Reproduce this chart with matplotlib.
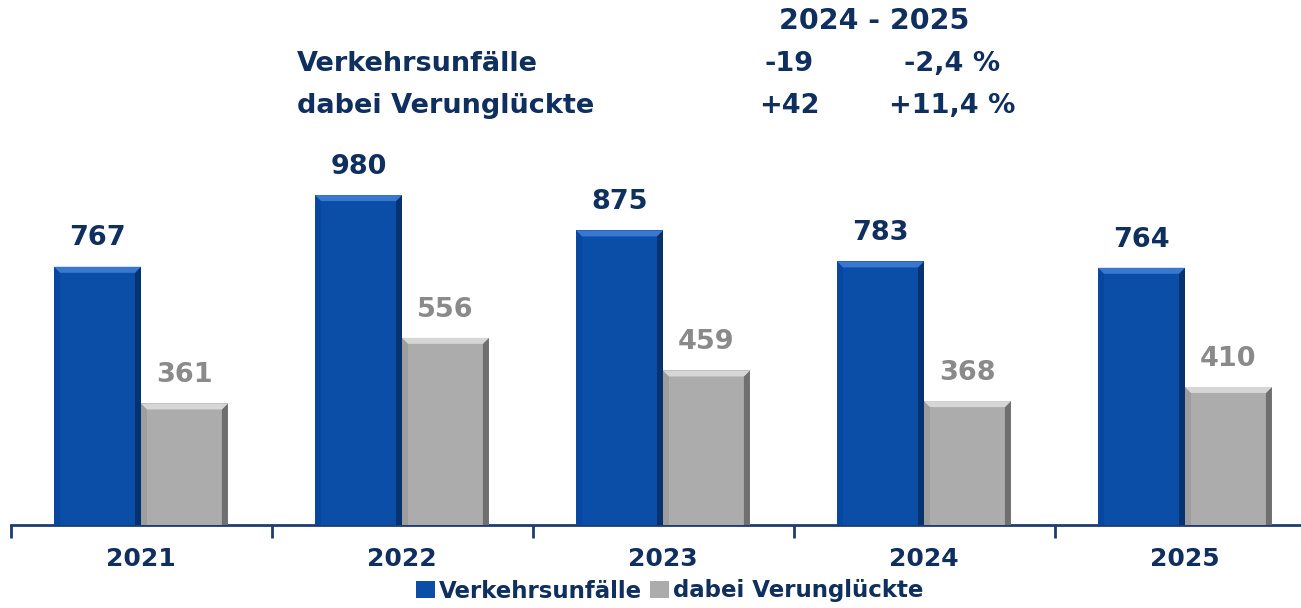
"""Verkehrsunfälle / dabei Verunglückte 2021-2025, beveled column chart."""
import matplotlib

matplotlib.use("Agg")
import numpy as np  # noqa: E402
from matplotlib import patches  # noqa: E402
from matplotlib import pyplot as plt  # noqa: E402

W, H = 1301, 608

# ---- data -----------------------------------------------------------------
years = ["2021", "2022", "2023", "2024", "2025"]
unfaelle = [767, 980, 875, 783, 764]
verunglueckte = [361, 556, 459, 368, 410]

series_names = ["Verkehrsunfälle", "dabei Verunglückte"]
change_title = "2024 - 2025"
change_abs = ["-19", "+42"]
change_pct = ["-2,4 %", "+11,4 %"]

# ---- palette --------------------------------------------------------------
NAVY = "#0f2f5f"
BLUE, BLUE_HI, BLUE_LO = "#0a4ea8", "#3a78d0", "#06336f"
GRAY, GRAY_HI, GRAY_LO = "#acacac", "#d6d6d6", "#6f6f6f"
GRAY_TXT = "#8a8a8a"
FONT = "DejaVu Sans"


def px2data(ax):
    """data units per pixel in x and y."""
    bb = ax.get_window_extent()
    x0, x1 = ax.get_xlim()
    y0, y1 = ax.get_ylim()
    return (x1 - x0) / bb.width, (y1 - y0) / bb.height


def bevel(ax, bar, hi, lo, side, t=6):
    """Add a bevelled frame (light top/left, dark right) over one bar."""
    sx, sy = px2data(ax)
    dx, dy = t * sx, t * sy
    x, y = bar.get_x(), bar.get_y()
    w, h = bar.get_width(), bar.get_height()
    top = [(x, y + h), (x + w, y + h), (x + w - dx, y + h - dy), (x + dx, y + h - dy)]
    left = [(x, y), (x, y + h), (x + dx, y + h - dy), (x + dx, y)]
    right = [(x + w, y), (x + w, y + h), (x + w - dx, y + h - dy), (x + w - dx, y)]
    for pts, c, a in ((left, side, 0.9), (right, lo, 1.0), (top, hi, 1.0)):
        ax.add_patch(patches.Polygon(pts, closed=True, fc=c, ec="none",
                                     alpha=a, zorder=4))


fig = plt.figure(figsize=(W / 100, H / 100), dpi=100)
# axis spans pixel 10.5 .. 1315 (right end falls past the canvas), baseline y=525
ax = fig.add_axes([10.5 / W, (H - 525) / H, (1315.5 - 10.5) / W, 404 / H])
ax.set_xlim(-0.5, len(years) - 0.5)
ax.set_ylim(0, 1200)

x = np.arange(len(years))
bw = 0.333
b1 = ax.bar(x - bw / 2, unfaelle, bw, color=BLUE, zorder=3, label=series_names[0])
b2 = ax.bar(x + bw / 2, verunglueckte, bw, color=GRAY, zorder=3, label=series_names[1])

for bar in b1:
    bevel(ax, bar, BLUE_HI, BLUE_LO, "#0847a0")
for bar in b2:
    bevel(ax, bar, GRAY_HI, GRAY_LO, "#9c9c9c")

for bars, vals, col in ((b1, unfaelle, NAVY), (b2, verunglueckte, GRAY_TXT)):
    for bar, v in zip(bars, vals):
        ax.annotate(str(v), (bar.get_x() + bar.get_width() / 2, v), xytext=(0, 11),
                    textcoords="offset points", ha="center", va="bottom",
                    fontsize=19.5, fontweight="bold", color=col, family=FONT)

# axes styling: only the bottom line, ticks on category borders
for s in ("top", "right", "left"):
    ax.spines[s].set_visible(False)
ax.spines["bottom"].set_color("#1c3c72")
ax.spines["bottom"].set_linewidth(2)
ax.set_yticks([])
ax.set_xticks(np.arange(-0.5, len(years), 1.0))
ax.set_xticklabels([])
ax.tick_params(axis="x", which="major", direction="out", length=9, width=2,
               color="#1c3c72")
ax.set_xticks(x, minor=True)
ax.set_xticklabels(years, minor=True, fontsize=18, fontweight="bold",
                   color=NAVY, family=FONT)
ax.tick_params(axis="x", which="minor", length=0, pad=16)

# legend below the axis
leg = ax.legend(handles=[b1, b2], loc="center", bbox_to_anchor=(670 / W, 1 - 591 / H),
                bbox_transform=fig.transFigure, ncol=2, frameon=False,
                handlelength=0.8, handleheight=0.8, handletextpad=0.2,
                columnspacing=0.35, borderaxespad=0, borderpad=0,
                prop={"family": FONT, "weight": "bold", "size": 16.5})
for t in leg.get_texts():
    t.set_color(NAVY)

# header block with the change 2024 -> 2025
hdr = dict(fontsize=19.5, fontweight="bold", color=NAVY, family=FONT, va="center")
fig.text(874 / W, 1 - 21 / H, change_title, ha="center",
         **{**hdr, "fontsize": 20.5})
for i, (name, a, p) in enumerate(zip(series_names, change_abs, change_pct)):
    yy = 1 - (64 + 42 * i) / H
    fig.text(297 / W, yy, name, ha="left", **hdr)
    fig.text(789 / W, yy, a, ha="center", **hdr)
    fig.text(952 / W, yy, p, ha="center", **hdr)

fig.savefig("out.png", dpi=100, facecolor="white")
